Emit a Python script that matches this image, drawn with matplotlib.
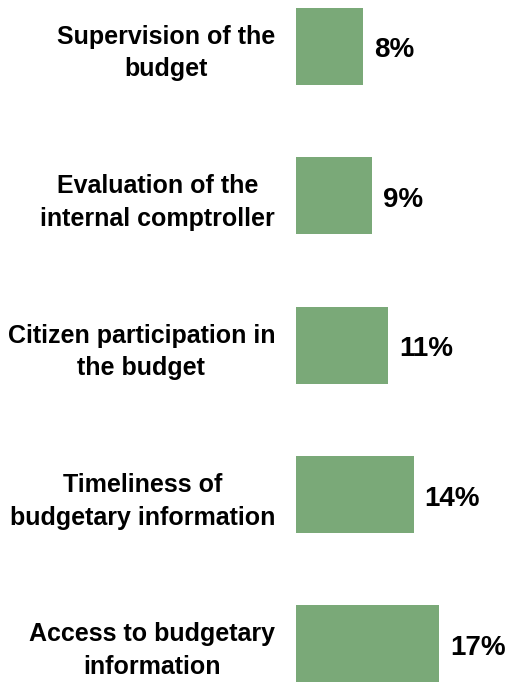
import matplotlib.pyplot as plt
from matplotlib.transforms import ScaledTranslation

# categories listed top to bottom
categories = [
    "Supervision of the\nbudget",
    "Evaluation of the\ninternal comptroller",
    "Citizen participation in\nthe budget",
    "Timeliness of\nbudgetary information",
    "Access to budgetary\ninformation",
]
values = [8, 9, 11, 14, 17]

plt.rcParams['font.family'] = ['Liberation Sans', 'DejaVu Sans']
plt.rcParams['font.weight'] = 'bold'

fig = plt.figure(figsize=(5.12, 6.83), dpi=100)
ax = fig.add_axes([296 / 512, 0, 1 - 296 / 512, 1])

ypos = list(range(len(categories)))[::-1]
bars = ax.barh(ypos, values, height=0.515, color='#7aa978')

for b, v in zip(bars, values):
    ax.annotate(f"{v}%", (b.get_width(), b.get_y() + b.get_height() / 2),
                xytext=(8, -3), textcoords='offset points',
                ha='left', va='center', fontsize=20, fontweight='bold')

ax.set_xlim(0, 216 / 8.4)
ax.set_ylim(-0.261, 4.308)
ax.set_yticks(ypos)
ax.set_yticklabels(categories, fontsize=18, fontweight='bold')
shift = ScaledTranslation(0, -4 / 100, fig.dpi_scale_trans)
for lbl in ax.get_yticklabels():
    lbl.set_multialignment('center')
    lbl.set_linespacing(1.45)
    lbl.set_transform(lbl.get_transform() + shift)
ax.tick_params(axis='y', length=0, pad=15)
ax.set_xticks([])
for s in ax.spines.values():
    s.set_visible(False)

fig.savefig("out.png", dpi=100)
